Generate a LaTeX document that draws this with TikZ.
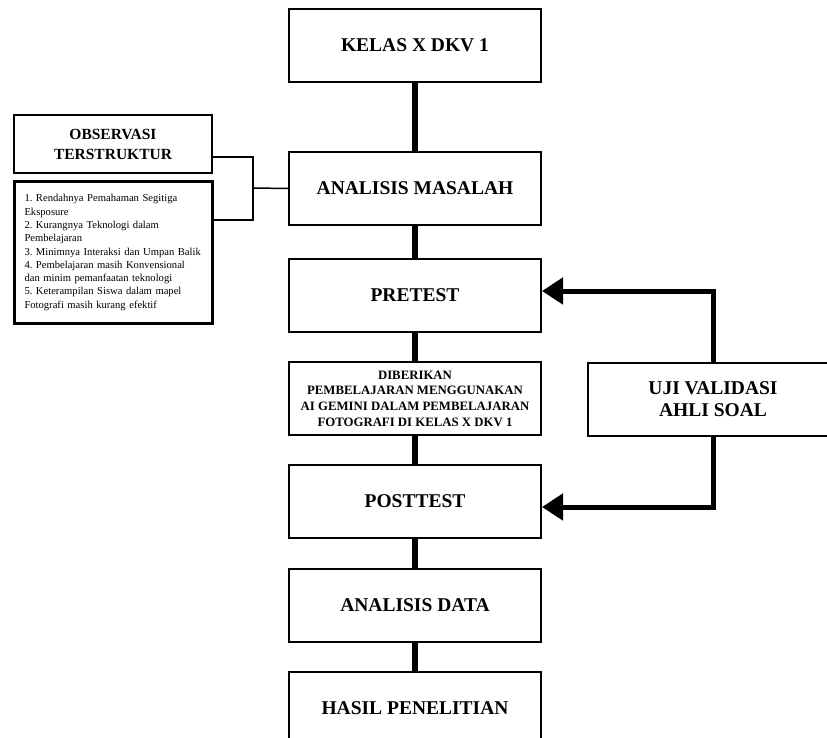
\documentclass[tikz,border=0pt]{standalone}
\usepackage{fontspec}
\setmainfont{Liberation Serif}
\usetikzlibrary{arrows.meta,calc}
\begin{document}
\begin{tikzpicture}[x=1pt,y=-1pt,
  mainbox/.style={draw,line width=2pt,minimum width=252pt,minimum height=73pt,inner sep=0pt,align=center,font=\bfseries\fontsize{19.5}{22}\selectfont},
  spine/.style={line width=6pt},
  feed/.style={line width=5pt,-{Triangle[length=21pt,width=26pt]}},
  thin/.style={line width=1.5pt}]
\useasboundingbox (0,0) rectangle (827,738);
\begin{scope}
\clip (0,0) rectangle (827,738);
\node[mainbox] (kelas) at (415,45.5) {KELAS X DKV 1};
\node[mainbox] (am) at (415,188.5) {ANALISIS MASALAH};
\node[mainbox] (pre) at (415,295.5) {PRETEST};
\node[mainbox,font=\bfseries\fontsize{12.8}{15.7}\selectfont] (dib) at (415,398.5) {DIBERIKAN\\PEMBELAJARAN MENGGUNAKAN\\AI GEMINI DALAM PEMBELAJARAN\\FOTOGRAFI DI KELAS X DKV 1};
\node[mainbox] (post) at (415,501.5) {POSTTEST};
\node[mainbox] (ad) at (415,605) {ANALISIS DATA};
\node[mainbox] (hasil) at (415,708.5) {HASIL PENELITIAN};
\node[mainbox,minimum width=250pt] (uji) at (713,399.5) {UJI VALIDASI\\AHLI SOAL};
\node[draw,line width=2pt,minimum width=198pt,minimum height=58pt,inner sep=0pt,align=center,font=\bfseries\fontsize{15.5}{20}\selectfont] (obs) at (113,144) {OBSERVASI\\TERSTRUKTUR};
\node[draw,line width=3pt,text width=177pt,inner xsep=10.5pt,inner ysep=0pt,minimum height=141pt,align=left,font=\fontsize{10.6}{13.3}\selectfont\frenchspacing] (list) at (113,252.5) {1. Rendahnya Pemahaman Segitiga\\Eksposure\\2. Kurangnya Teknologi dalam\\Pembelajaran\\3. Minimnya Interaksi dan Umpan Balik\\4. Pembelajaran masih Konvensional\\dan minim pemanfaatan teknologi\\5. Keterampilan Siswa dalam mapel\\Fotografi masih kurang efektif};
\draw[spine] (kelas.south) -- (am.north);
\draw[spine] (am.south) -- (pre.north);
\draw[spine] (pre.south) -- (dib.north);
\draw[spine] (dib.south) -- (post.north);
\draw[spine] (post.south) -- (ad.north);
\draw[spine] (ad.south) -- (hasil.north);
\draw[feed] (uji.north) |- ([yshift=4.5pt]pre.east);
\draw[feed] (uji.south) |- ([yshift=-5.5pt]post.east);
\coordinate (bx) at (253,188);
\draw[thin] ([yshift=-13pt]obs.east) -| (bx);
\draw[thin] ([yshift=32.5pt]list.east) -| (bx);
\draw[thin] (bx) -- (am.west);
\end{scope}
\end{tikzpicture}
\end{document}
